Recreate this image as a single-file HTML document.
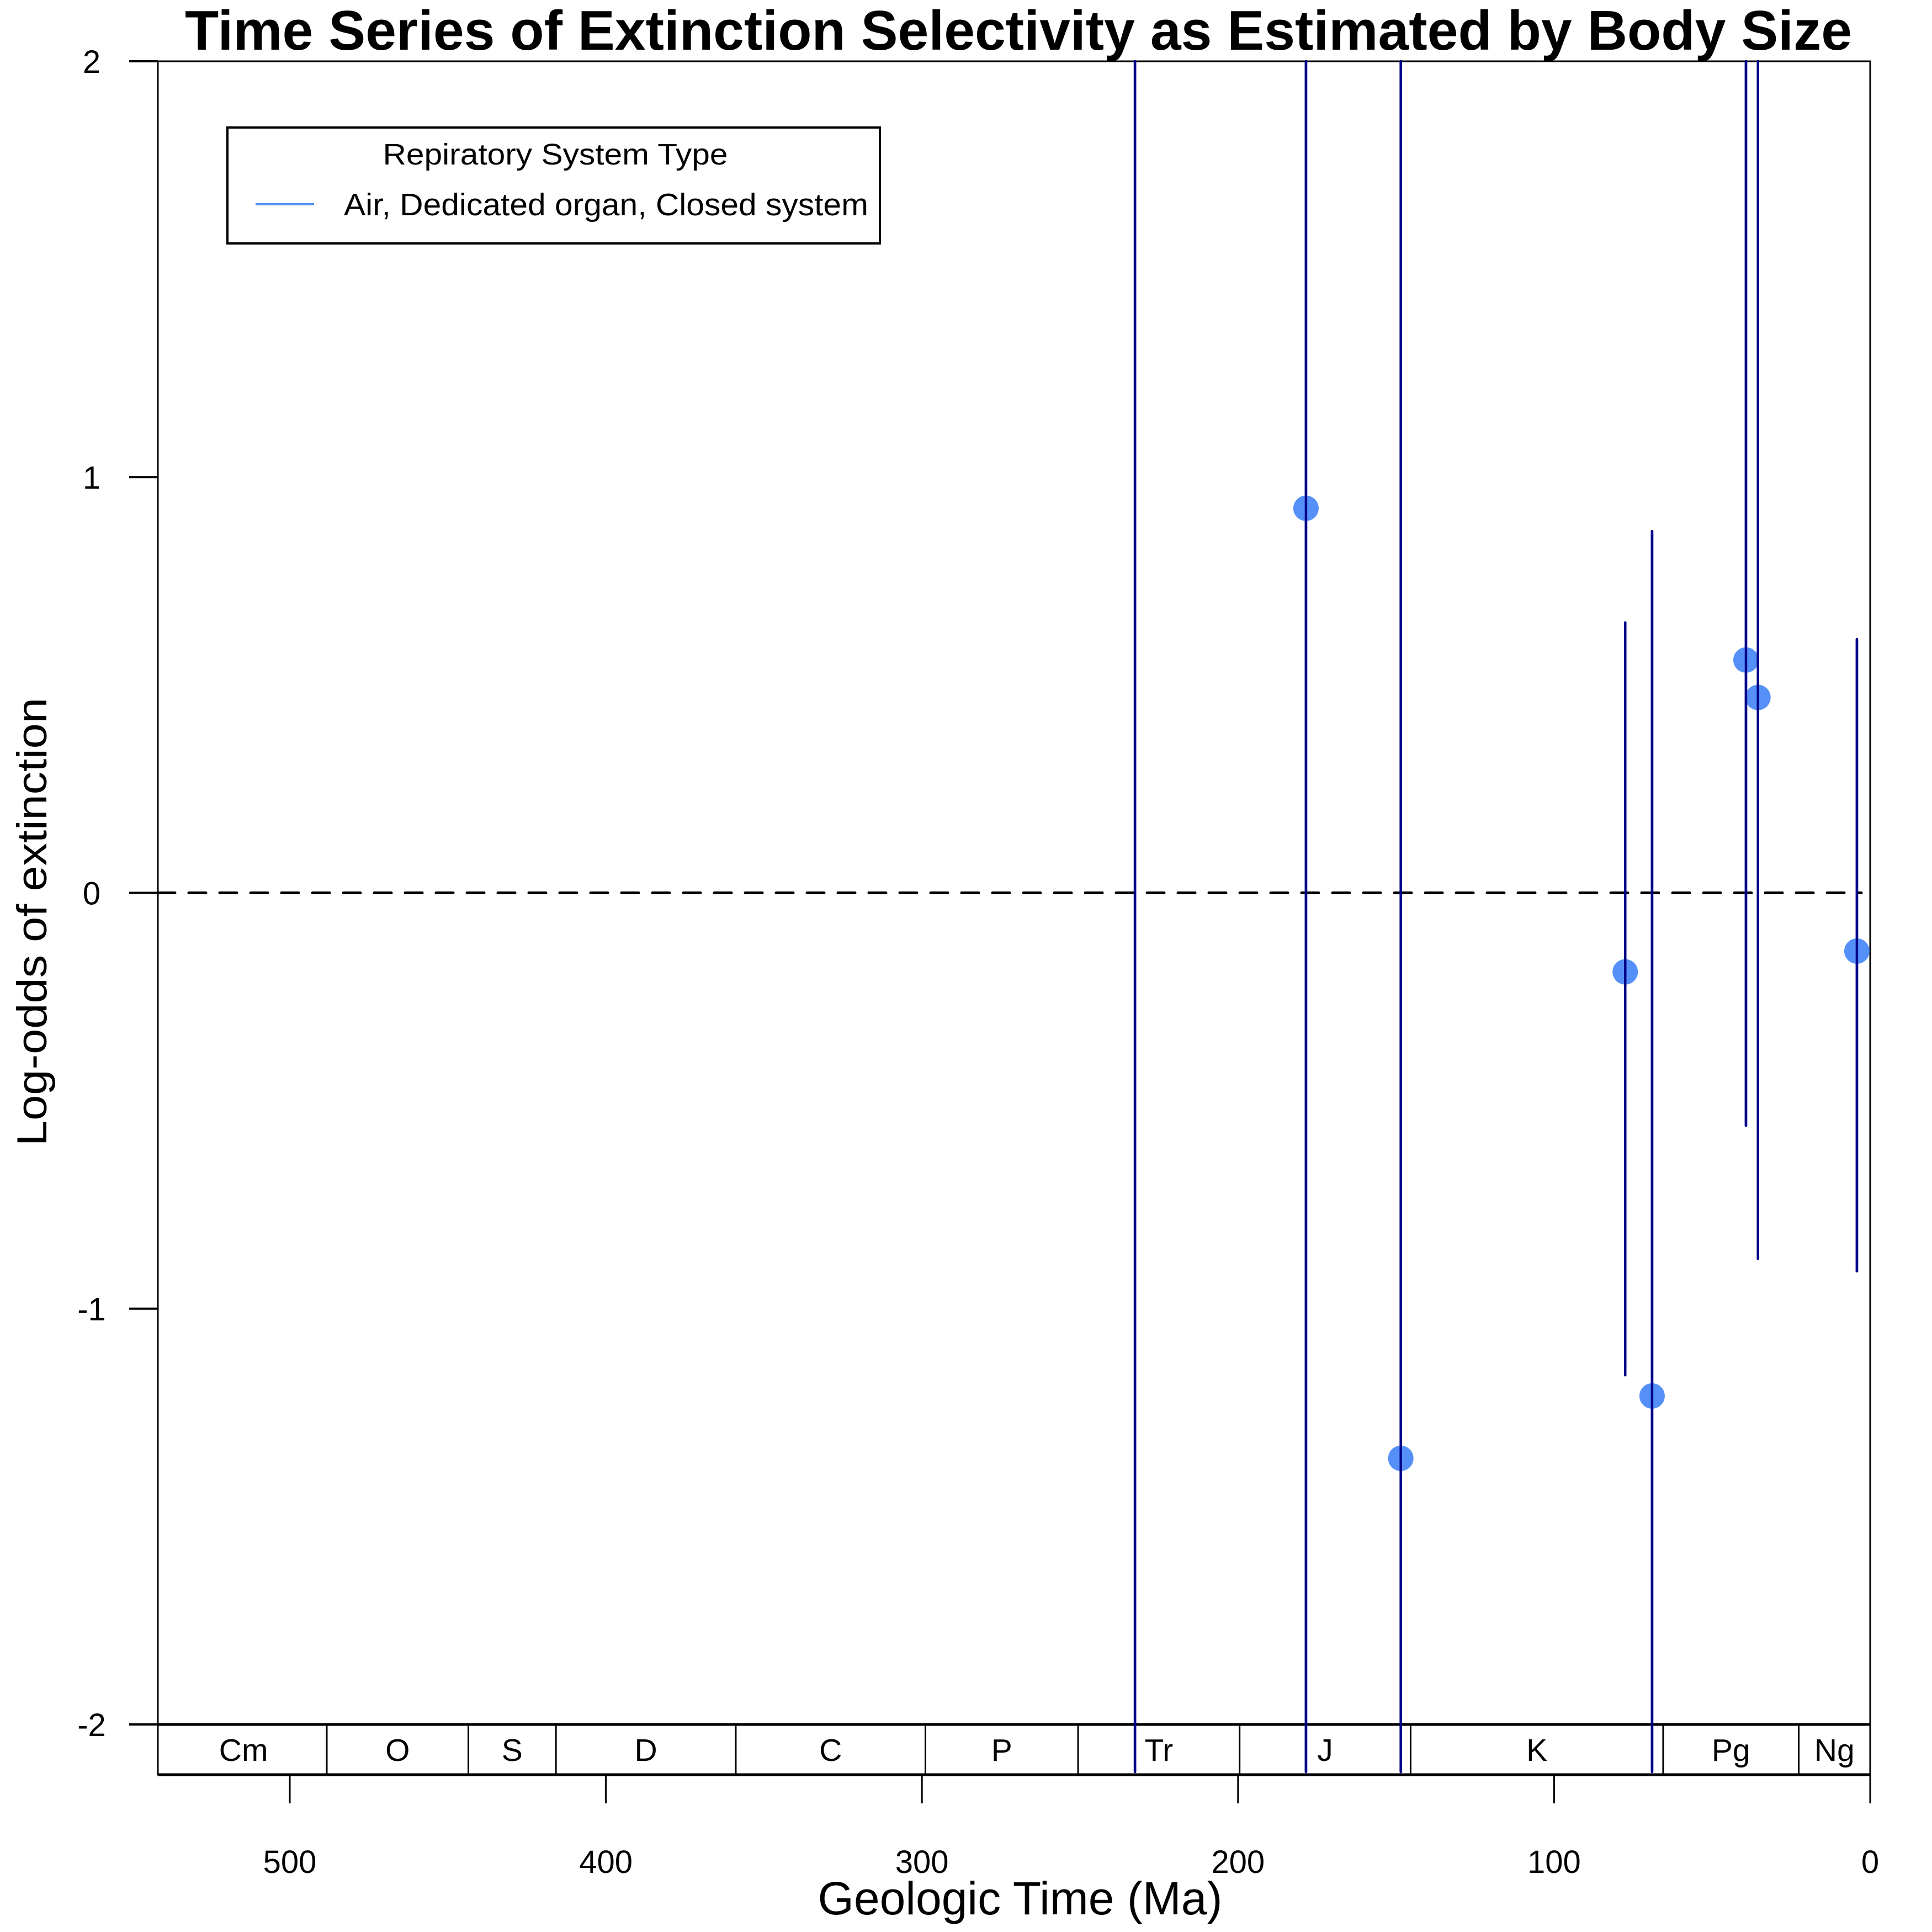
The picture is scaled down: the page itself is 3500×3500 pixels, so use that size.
<!DOCTYPE html>
<html><head><meta charset="utf-8"><style>
html,body{margin:0;padding:0;background:#fff}
svg{display:block;font-family:"Liberation Sans",Arial,sans-serif}
</style></head><body>
<svg id="chart" width="3500" height="3500" viewBox="0 0 3500 3500" xmlns="http://www.w3.org/2000/svg">
<rect x="0" y="0" width="3500" height="3500" fill="#fff"/>
<text x="1845" y="90" font-size="101" font-weight="bold" text-anchor="middle" textLength="3020" lengthAdjust="spacingAndGlyphs">Time Series of Extinction Selectivity as Estimated by Body Size</text>
<g id="axes"></g>
<g id="marks"></g>
<g>
<rect x="412" y="231" width="1182" height="210" fill="#fff" stroke="#000" stroke-width="4"/>
<text x="1006" y="298" font-size="54" text-anchor="middle" textLength="625" lengthAdjust="spacingAndGlyphs">Repiratory System Type</text>
<line x1="463" y1="370" x2="569" y2="370" stroke="#5590f8" stroke-width="4"/>
<text x="623" y="390" font-size="57" textLength="950" lengthAdjust="spacingAndGlyphs">Air, Dedicated organ, Closed system</text>
</g>
<text x="1848" y="3468" font-size="84" text-anchor="middle" textLength="733" lengthAdjust="spacingAndGlyphs">Geologic Time (Ma)</text>
<text transform="translate(84,1670) rotate(-90)" font-size="76" text-anchor="middle" textLength="812" lengthAdjust="spacingAndGlyphs">Log-odds of extinction</text>
</svg>
<script>
const xTicks=[500,400,300,200,100,0];
const yTicks=[2,1,0,-1,-2];
const periodNames=["Cm","O","S","D","C","P","Tr","J","K","Pg","Ng"];
const periodStarts=[541,488.3,443.5,415.8,358.9,298.9,250.6,199.5,145.4,65.5,22.6];
const periodEnds=[488.3,443.5,415.8,358.9,298.9,250.6,199.5,145.4,65.5,22.6,0];
const ages=[232.6,178.5,148.5,77.5,69,39.3,35.5,4.2];
const estimates=[null,0.925,-1.36,-0.19,-1.21,0.56,0.47,-0.14];
const lowers=[-5,-5,-5,-1.16,-5,-0.56,-0.88,-0.91];
const uppers=[5,5,5,0.65,0.87,5,5,0.61];

const NS="http://www.w3.org/2000/svg";
const L=286,R=3388,T=111,B=3124;
const X0=3388,XPER=5.726;
function xs(ma){return X0-ma*XPER;}
function ys(v){return 1617.5-v*753.25;}
function mk(tag,attrs,parent){const e=document.createElementNS(NS,tag);for(const k in attrs)e.setAttribute(k,attrs[k]);parent.appendChild(e);return e;}
const axes=document.getElementById('axes');
const marks=document.getElementById('marks');

const fr=mk('rect',{x:L,y:T,width:R-L,height:B-T,fill:'none',stroke:'#000','stroke-width':3},axes);


yTicks.forEach(v=>{
 const t=mk('line',{x1:234,x2:L,y1:ys(v),y2:ys(v),stroke:'#000','stroke-width':4},axes);
 
 
 const lb=mk('text',{x:166,y:ys(v)+21,'font-size':58,'text-anchor':'middle'},axes);
 lb.textContent=String(v);
 
 
});
const z=mk('line',{x1:L,x2:3372,y1:ys(0),y2:ys(0),stroke:'#000','stroke-width':5,'stroke-dasharray':'31 25','stroke-linecap':'round'},axes);


const TB=3215;
const tb=mk('rect',{x:L,y:B,width:R-L,height:TB-B,fill:'#fff',stroke:'#000','stroke-width':3},axes);


mk('line',{x1:L,x2:R,y1:B,y2:B,stroke:'#000','stroke-width':5},axes);
mk('line',{x1:L,x2:R,y1:TB,y2:TB,stroke:'#000','stroke-width':5},axes);
periodNames.forEach((n,i)=>{
 const x1=Math.max(L,xs(periodStarts[i])),x2=xs(periodEnds[i]);
 if(i>0){const d=mk('line',{x1:x1,x2:x1,y1:B,y2:TB,stroke:'#000','stroke-width':3},axes);
 
 }
 const t=mk('text',{x:(x1+x2)/2,y:3190,'font-size':57,'text-anchor':'middle'},axes);
 t.textContent=n;
 
 
});
xTicks.forEach(v=>{
 const t=mk('line',{x1:xs(v),x2:xs(v),y1:TB,y2:3267,stroke:'#000','stroke-width':3},axes);
 
 
 const lb=mk('text',{x:xs(v),y:3393,'font-size':58,'text-anchor':'middle'},axes);
 lb.textContent=String(v);
 
 
});
function drawBars(){
 ages.forEach((a,i)=>{
  const yt=Math.max(T,ys(uppers[i]));
  const yb=lowers[i]<-2?3210:ys(lowers[i]);
  const ln=mk('line',{x1:xs(a),x2:xs(a),y1:yt,y2:yb,stroke:'#00008b','stroke-width':4.5,'stroke-linecap':'round'},marks);
  
  
 });
}
drawBars();
ages.forEach((a,i)=>{
 if(estimates[i]===null)return;
 const c=mk('circle',{cx:xs(a),cy:ys(estimates[i]),r:23,fill:'#5590f8'},marks);
 
 
});
drawBars();
</script>
</body></html>
